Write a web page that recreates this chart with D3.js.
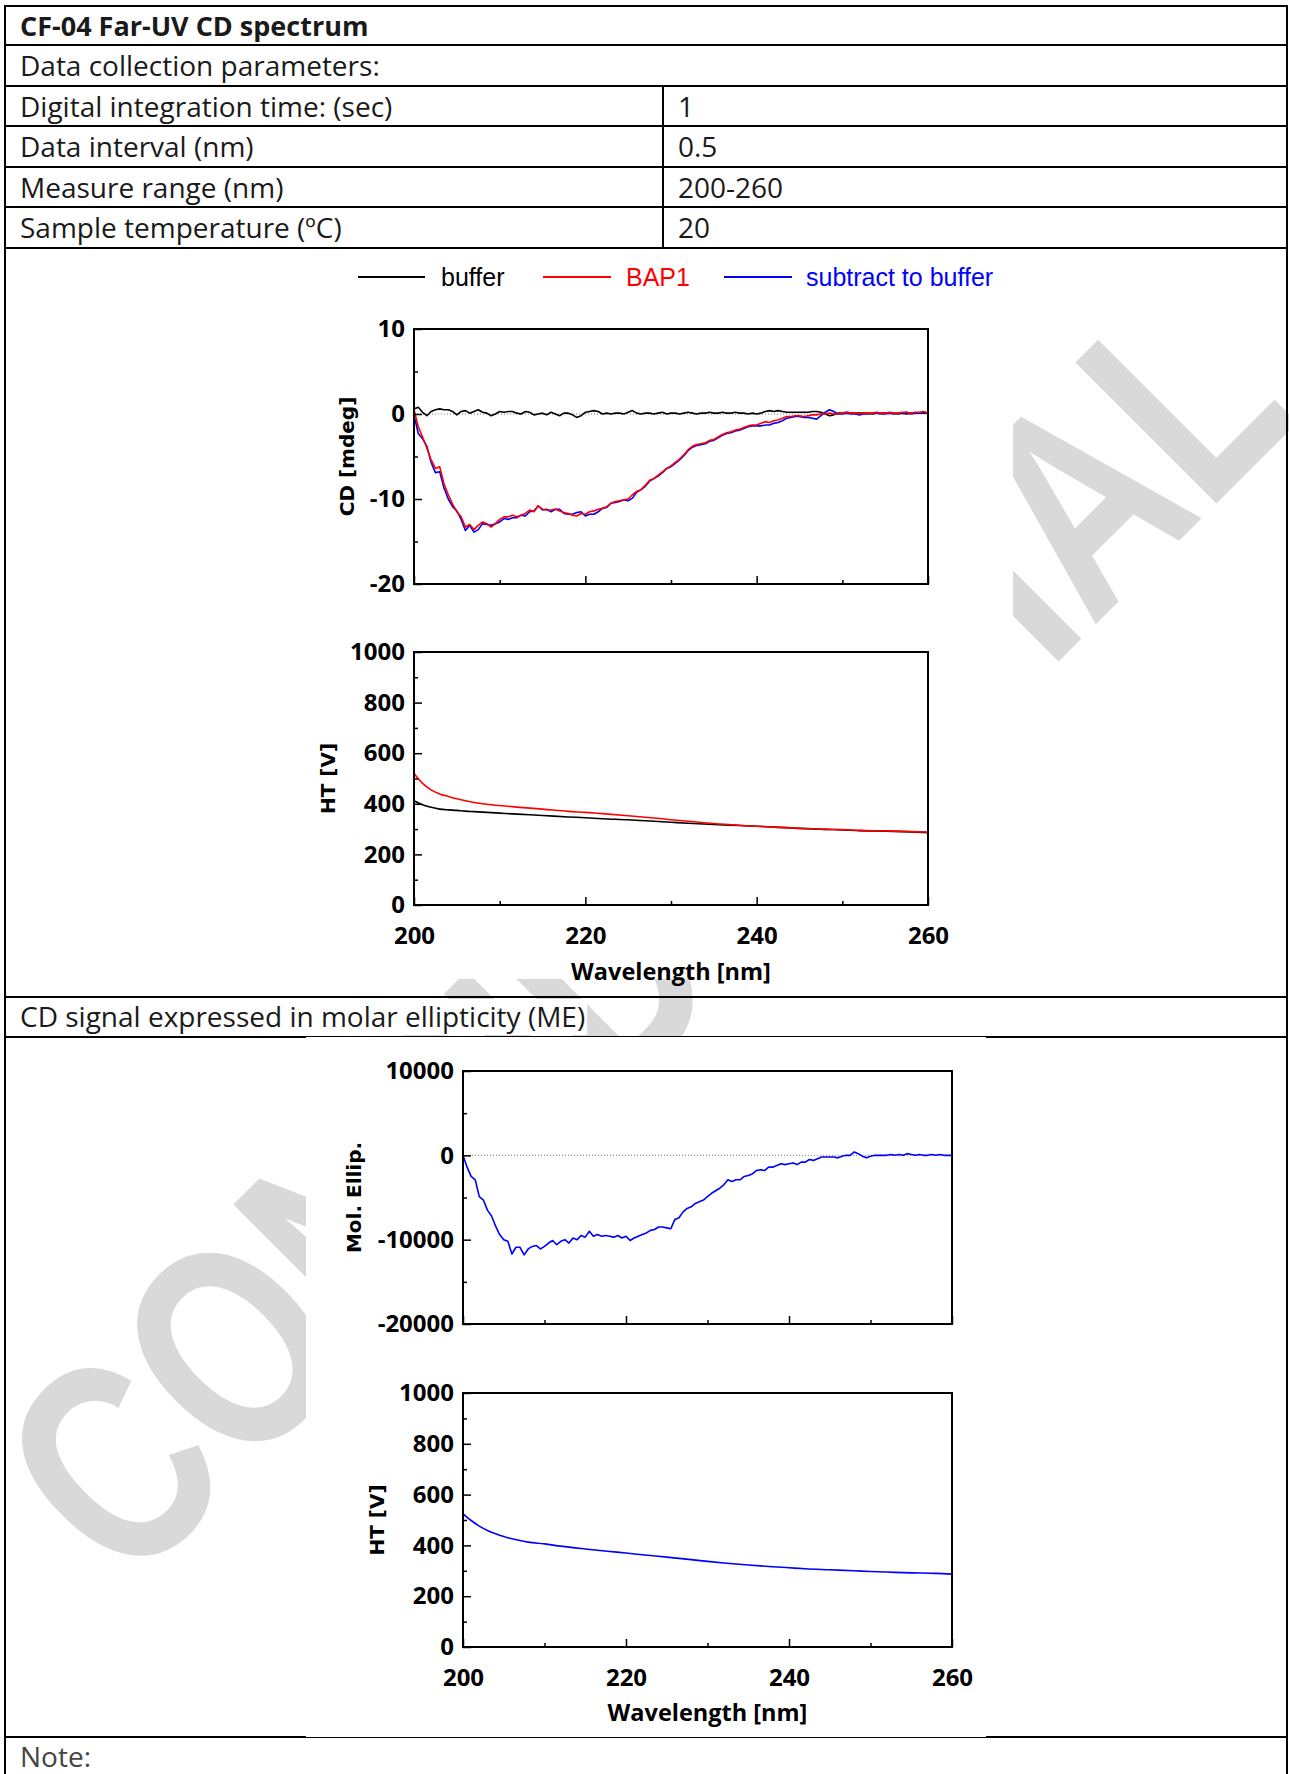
<!DOCTYPE html>
<html>
<head>
<meta charset="utf-8">
<script src="https://cdn.jsdelivr.net/npm/d3@7"></script>
<style>
  body { margin: 0; background: #fff; }
  svg { display: block; }
</style>
</head>
<body>
<div id="page"></div>
<script>
// ---------- data ----------
// CD spectra, 0.5 nm data interval, 200-260 nm
const wavelengths = d3.range(200, 260.001, 0.5);

const cdBuffer = [0.6,0.8,0.2,-0.2,0.3,0.5,0.6,0.5,0.5,0.3,-0.1,0.3,0.4,0.1,0.3,0.5,0.2,0.1,-0.2,0.0,
  0.3,0.2,0.3,0.3,0.1,0.0,0.3,0.2,-0.1,0.0,0.1,-0.1,0.2,0.0,-0.2,0.1,0.1,-0.1,-0.4,-0.2,
  0.2,0.3,0.4,0.3,0.0,0.1,0.0,0.1,0.1,0.0,0.2,0.4,0.1,0.0,0.1,0.1,0.0,0.1,0.2,0.0,
  0.1,0.1,0.0,0.1,0.2,0.1,0.0,0.1,0.1,0.2,0.1,0.1,0.2,0.1,0.1,0.2,0.1,0.1,0.0,0.1,
  0.0,0.1,0.3,0.4,0.3,0.4,0.3,0.2,0.2,0.2,0.2,0.2,0.2,0.3,0.3,0.2,0.0,-0.2,-0.1,0.1,
  0.1,0.2,0.1,0.1,0.1,0.1,0.1,0.0,0.1,0.1,0.1,0.1,0.1,0.0,0.1,0.0,0.1,0.1,0.1,0.1,0.1];

const cdBap1 = [0.5,-1.5,-2.7,-4.0,-5.4,-6.4,-6.2,-8.2,-9.5,-10.6,-11.5,-12.1,-13.3,-13.0,-13.6,-13.1,-12.7,-12.9,-13.3,-12.9,
  -12.4,-12.1,-12.1,-11.9,-12.1,-11.9,-11.7,-11.3,-11.5,-10.8,-11.2,-11.3,-11.3,-11.2,-11.4,-11.6,-11.7,-11.9,-12.0,-11.7,
  -11.8,-11.5,-11.4,-11.2,-11.1,-10.9,-10.5,-10.3,-10.2,-10.1,-10.0,-9.5,-9.1,-8.9,-8.4,-7.8,-7.6,-7.2,-6.8,-6.4,
  -6.1,-5.7,-5.3,-4.8,-4.2,-3.8,-3.6,-3.5,-3.4,-3.1,-3.0,-2.7,-2.4,-2.2,-2.1,-1.9,-1.8,-1.6,-1.4,-1.3,
  -1.3,-1.1,-0.9,-1.0,-0.8,-0.7,-0.5,-0.3,-0.3,-0.2,-0.2,-0.3,-0.2,-0.1,-0.1,0.0,0.0,0.1,0.0,0.0,
  0.1,0.2,0.1,0.1,0.0,0.1,0.1,0.1,0.2,0.1,0.1,0.2,0.1,0.1,0.2,0.2,0.1,0.2,0.2,0.3,0.1];

const cdSubtract = [-0.1,-2.3,-2.9,-3.8,-5.7,-6.9,-6.8,-8.7,-10.0,-10.9,-11.4,-12.4,-13.7,-13.1,-13.9,-13.6,-12.9,-13.0,-13.1,-12.9,
  -12.7,-12.3,-12.4,-12.2,-12.2,-11.9,-12.0,-11.5,-11.4,-10.8,-11.3,-11.2,-11.5,-11.2,-11.2,-11.7,-11.8,-11.8,-11.6,-11.5,
  -12.0,-11.8,-11.8,-11.5,-11.1,-11.0,-10.5,-10.4,-10.3,-10.1,-10.2,-9.9,-9.2,-8.9,-8.5,-7.9,-7.6,-7.3,-6.9,-6.4,
  -6.2,-5.8,-5.4,-4.9,-4.3,-3.9,-3.7,-3.6,-3.5,-3.2,-3.1,-2.8,-2.5,-2.3,-2.2,-2.0,-1.9,-1.7,-1.5,-1.4,
  -1.4,-1.4,-1.3,-1.3,-1.1,-1.0,-0.8,-0.5,-0.4,-0.3,-0.3,-0.4,-0.4,-0.5,-0.6,-0.2,0.2,0.5,0.3,0.0,
  0.0,0.1,0.0,0.0,-0.1,0.0,0.0,0.1,0.1,0.0,0.0,0.1,0.0,0.1,0.1,0.2,0.0,0.1,0.1,0.2,0.0];

const molEllip = [0,-1400,-2500,-2900,-4900,-5300,-6500,-7200,-8400,-9400,-10000,-10200,-11700,-10900,-10900,-11800,-11100,-10800,-10700,-11100,
  -10800,-10400,-10100,-10600,-10200,-10000,-10400,-9800,-10000,-9500,-9700,-9000,-9600,-9400,-9600,-9500,-9600,-9700,-9500,-9800,
  -9600,-10100,-9800,-9600,-9400,-9200,-8900,-8800,-8500,-8500,-8600,-8700,-7600,-7400,-6700,-6300,-6100,-5700,-5500,-5300,
  -4900,-4500,-4200,-3900,-3500,-2900,-3100,-2900,-2900,-2500,-2400,-2200,-1800,-1700,-1800,-1400,-1400,-1200,-1000,-1100,
  -1000,-900,-1100,-800,-800,-500,-600,-400,-200,-200,-200,-200,-300,-100,0,0,400,200,-100,-300,
  -100,0,0,0,0,100,0,100,0,200,100,0,100,0,0,100,0,100,0,0,0];

// HT voltage (smooth traces)
const htWavelengths = [200,201,202,203,204,205,206,207,208,210,212,215,218,220,222,225,228,230,232,235,238,240,242,245,248,250,252,255,258,260];
const htBuffer   = [412,396,386,379,376,374,371,369,367,363,359,354,348,345,341,337,331,327,323,318,314,311,308,303,299,297,294,292,289,286];
const htBap1     = [520,481,455,439,429,420,412,405,400,393,387,379,370,366,361,353,344,337,331,322,315,311,308,303,299,298,295,293,290,288];
const htSubtract = [524,498,476,459,446,435,426,419,413,406,397,386,376,370,363,354,344,337,331,323,316,312,308,304,300,297,295,292,290,287];

// axis ticks
const wlTicks = [200, 220, 240, 260];
const wlMinorTicks = [210, 230, 250];
const cdTicks = [10, 0, -10, -20];
const cdMinorTicks = [5, -5, -15];
const htTicks = [0, 200, 400, 600, 800, 1000];
const htMinorTicks = [100, 300, 500, 700, 900];
const meTicks = [10000, 0, -10000, -20000];
const meMinorTicks = [5000, -5000, -15000];

// report table text
const reportTitle = "CF-04 Far-UV CD spectrum";
const paramHeader = "Data collection parameters:";
const paramRows = [
  ["Digital integration time: (sec)", "1"],
  ["Data interval (nm)", "0.5"],
  ["Measure range (nm)", "200-260"],
  ["Sample temperature (\u00BAC)", "20"]
];
const meHeader = "CD signal expressed in molar ellipticity (ME)";
const noteLabel = "Note:";
const legendNames = ["buffer", "BAP1", "subtract to buffer"];
const seriesColors = { buffer: "#000000", BAP1: "#ff0000", "subtract to buffer": "#0000ff" };

// ---------- page ----------
const W = 1289, H = 1774;
const svg = d3.select("#page").append("svg")
  .attr("width", W)
  .attr("height", H);

const tableFont = "'Open Sans', sans-serif";
const tickFont = "'Open Sans', sans-serif";
const titleFont = "'DejaVu Sans', sans-serif";

// watermark, sits behind everything
svg.append("text")
  .attr("transform", "translate(127,1593) rotate(-45) scale(0.77,1)")
  .attr("font-family", "'Liberation Sans', Arial, sans-serif")
  .attr("font-weight", "bold")
  .attr("font-size", 290)
  .attr("fill", "#d9d9d9")
  .text("CONFIDENTIAL");

// table grid
const left = 5, right = 1287;
const rowLines = [6, 45, 86, 126, 167, 207, 248, 997, 1037, 1737];
const grid = svg.append("g").attr("stroke", "#000").attr("stroke-width", 2);
rowLines.forEach(y => {
  grid.append("line").attr("x1", left - 1).attr("x2", right + 1).attr("y1", y).attr("y2", y);
});
grid.append("line").attr("x1", left).attr("x2", left).attr("y1", 5).attr("y2", H + 2);
grid.append("line").attr("x1", right).attr("x2", right).attr("y1", 5).attr("y2", H + 2);
grid.append("line").attr("x1", 663).attr("x2", 663).attr("y1", 86).attr("y2", 248);

// pasted chart images have white backgrounds (they hide the watermark)
svg.append("rect").attr("x", 300).attr("y", 250).attr("width", 713).attr("height", 729).attr("fill", "#fff");
svg.append("rect").attr("x", 306).attr("y", 1037).attr("width", 680).attr("height", 700).attr("fill", "#fff");

// table text
const txt = svg.append("g")
  .attr("font-family", tableFont)
  .attr("font-size", 28)
  .attr("fill", "#1a1a1a");

txt.append("text").attr("x", 20).attr("y", 36).attr("font-size", 27).attr("font-weight", "bold").text(reportTitle);
txt.append("text").attr("x", 20).attr("y", 76).text(paramHeader);
paramRows.forEach((r, i) => {
  const y = rowLines[2 + i] + 30.5;
  txt.append("text").attr("x", 20).attr("y", y).text(r[0]);
  txt.append("text").attr("x", 678).attr("y", y).text(r[1]);
});

// this heading carries a white highlight, so the watermark does not show through it
const meText = txt.append("text").attr("x", 20).attr("y", 1027).text(meHeader);
const meLen = meText.node().getComputedTextLength();
txt.insert("rect", () => meText.node())
  .attr("x", 18).attr("y", 999)
  .attr("width", meLen + 4).attr("height", 36)
  .attr("fill", "#fff");

txt.append("text").attr("x", 20).attr("y", 1767).attr("fill", "#444").text(noteLabel);

// legend
const legendPos = [{x1: 358, x2: 425, tx: 441}, {x1: 543, x2: 611, tx: 626}, {x1: 724, x2: 792, tx: 806}];
const legend = svg.append("g").attr("font-family", "'Liberation Sans', Arial, sans-serif").attr("font-size", 25);
legendNames.forEach((name, i) => {
  const p = legendPos[i];
  legend.append("line")
    .attr("x1", p.x1).attr("x2", p.x2).attr("y1", 277).attr("y2", 277)
    .attr("stroke", seriesColors[name]).attr("stroke-width", 2);
  legend.append("text")
    .attr("x", p.tx).attr("y", 286)
    .attr("fill", seriesColors[name])
    .text(name);
});

// ---------- panels ----------
function panel(cfg) {
  const x = d3.scaleLinear().domain([200, 260]).range([cfg.x0, cfg.x1]);
  const y = d3.scaleLinear().domain(cfg.yDomain).range([cfg.y1, cfg.y0]);
  const g = svg.append("g");
  const clipId = "clip" + cfg.id;

  g.append("clipPath").attr("id", clipId)
    .append("rect")
    .attr("x", cfg.x0).attr("y", cfg.y0)
    .attr("width", cfg.x1 - cfg.x0).attr("height", cfg.y1 - cfg.y0);

  if (cfg.zeroLine) {
    g.append("line")
      .attr("x1", cfg.x0).attr("x2", cfg.x1)
      .attr("y1", y(0)).attr("y2", y(0))
      .attr("stroke", "#777").attr("stroke-width", 1)
      .attr("stroke-dasharray", "1,2");
  }

  const line = d3.line()
    .x(d => x(d[0]))
    .y(d => y(d[1]))
    .curve(cfg.smooth ? d3.curveMonotoneX : d3.curveLinear);

  const plot = g.append("g").attr("clip-path", `url(#${clipId})`);
  cfg.series.forEach(s => {
    plot.append("path")
      .datum(d3.zip(s.x, s.values))
      .attr("fill", "none")
      .attr("stroke", s.color)
      .attr("stroke-width", 1.6)
      .attr("stroke-linejoin", "round")
      .attr("d", line);
  });

  // left axis: labelled ticks and minor ticks, both pointing inward
  const yAxis = g.append("g").attr("transform", `translate(${cfg.x0},0)`)
    .call(d3.axisLeft(y).tickValues(cfg.yTicks).tickSizeInner(-8).tickSizeOuter(0)
      .tickPadding(9).tickFormat(d => String(d)));
  yAxis.append("g")
    .call(d3.axisLeft(y).tickValues(cfg.yMinor).tickSizeInner(-4).tickSizeOuter(0).tickFormat(""));

  const xAxis = g.append("g").attr("transform", `translate(0,${cfg.y1})`)
    .call(d3.axisBottom(x).tickValues(wlTicks).tickSizeInner(-8).tickSizeOuter(0)
      .tickPadding(22).tickFormat(d => cfg.xLabels ? String(d) : ""));
  xAxis.append("g")
    .call(d3.axisBottom(x).tickValues(wlMinorTicks).tickSizeInner(-4).tickSizeOuter(0).tickFormat(""));

  g.selectAll(".domain").remove();
  g.selectAll(".tick line").attr("stroke", "#000").attr("stroke-width", 1.5);
  g.selectAll(".tick text")
    .attr("font-family", tickFont)
    .attr("font-weight", 700)
    .attr("font-size", 24)
    .attr("fill", "#000");

  // frame
  g.append("rect")
    .attr("x", cfg.x0).attr("y", cfg.y0)
    .attr("width", cfg.x1 - cfg.x0).attr("height", cfg.y1 - cfg.y0)
    .attr("fill", "none").attr("stroke", "#000").attr("stroke-width", 2);

  // y title
  g.append("text")
    .attr("transform", `translate(${cfg.yTitleX},${(cfg.y0 + cfg.y1) / 2}) rotate(-90)`)
    .attr("text-anchor", "middle")
    .attr("dy", "0.36em")
    .attr("font-family", titleFont)
    .attr("font-weight", "bold")
    .attr("font-size", 20)
    .text(cfg.yTitle);

  if (cfg.xLabels) {
    g.append("text")
      .attr("x", (cfg.x0 + cfg.x1) / 2)
      .attr("y", cfg.xTitleY)
      .attr("text-anchor", "middle")
      .attr("font-family", tickFont)
      .attr("font-weight", 700)
      .attr("font-size", 23.5)
      .text("Wavelength [nm]");
  }
}

panel({
  id: 1, x0: 414, x1: 928, y0: 329, y1: 584,
  yDomain: [-20, 10], yTicks: cdTicks, yMinor: cdMinorTicks,
  yTitle: "CD [mdeg]", yTitleX: 347, zeroLine: true, xLabels: false,
  series: [
    { x: wavelengths, values: cdBuffer, color: seriesColors.buffer },
    { x: wavelengths, values: cdSubtract, color: seriesColors["subtract to buffer"] },
    { x: wavelengths, values: cdBap1, color: seriesColors.BAP1 }
  ]
});

panel({
  id: 2, x0: 414, x1: 928, y0: 652, y1: 905,
  yDomain: [0, 1000], yTicks: htTicks, yMinor: htMinorTicks,
  yTitle: "HT [V]", yTitleX: 328, xLabels: true, xTitleY: 980, smooth: true,
  series: [
    { x: htWavelengths, values: htBuffer, color: seriesColors.buffer },
    { x: htWavelengths, values: htBap1, color: seriesColors.BAP1 }
  ]
});

panel({
  id: 3, x0: 463, x1: 952, y0: 1071, y1: 1324,
  yDomain: [-20000, 10000], yTicks: meTicks, yMinor: meMinorTicks,
  yTitle: "Mol. Ellip.", yTitleX: 354, zeroLine: true, xLabels: false,
  series: [
    { x: wavelengths, values: molEllip, color: seriesColors["subtract to buffer"] }
  ]
});

panel({
  id: 4, x0: 463, x1: 952, y0: 1393, y1: 1647,
  yDomain: [0, 1000], yTicks: htTicks, yMinor: htMinorTicks,
  yTitle: "HT [V]", yTitleX: 377, xLabels: true, xTitleY: 1721, smooth: true,
  series: [
    { x: htWavelengths, values: htSubtract, color: seriesColors["subtract to buffer"] }
  ]
});
</script>
</body>
</html>
